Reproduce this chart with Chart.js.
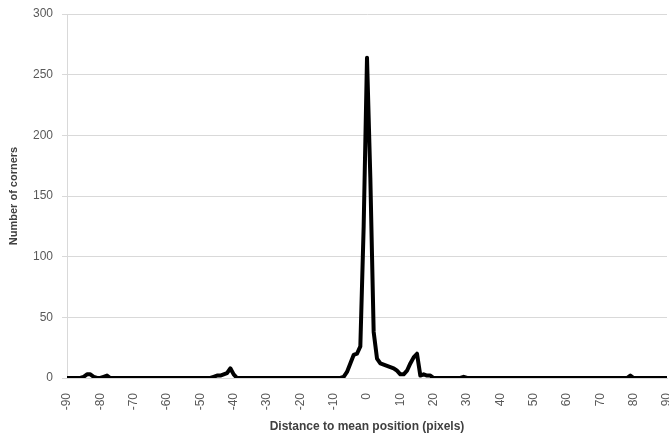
<!DOCTYPE html>
<html>
<head>
<meta charset="utf-8">
<script src="https://cdn.jsdelivr.net/npm/chart.js@4/dist/chart.umd.min.js"></script>
<style>
  html, body { margin: 0; padding: 0; background: #ffffff; }
  #wrap { width: 669px; height: 435px; position: relative; }
</style>
</head>
<body>
<div id="wrap"><canvas id="c" width="669" height="435"></canvas></div>
<script>
// Offsets from the mean position, one category per pixel step (-90 .. 90)
const offsetStart = -90;
const offsetEnd = 90;

// Corner counts per offset, listed from -90 to +90
const cornerCounts = [
  // -90 .. -81
  0, 0, 0, 0, 0, 1, 3, 3, 1, 0,
  // -80 .. -71
  0, 1, 2, 0, 0, 0, 0, 0, 0, 0,
  // -70 .. -61
  0, 0, 0, 0, 0, 0, 0, 0, 0, 0,
  // -60 .. -51
  0, 0, 0, 0, 0, 0, 0, 0, 0, 0,
  // -50 .. -41
  0, 0, 0, 0, 1, 2, 2, 3, 4, 8,
  // -40 .. -31
  3, 0, 0, 0, 0, 0, 0, 0, 0, 0,
  // -30 .. -21
  0, 0, 0, 0, 0, 0, 0, 0, 0, 0,
  // -20 .. -11
  0, 0, 0, 0, 0, 0, 0, 0, 0, 0,
  // -10 .. -1
  0, 0, 0, 1, 5, 12, 19, 20, 26, 125,
  // 0 .. 9
  264, 165, 38, 16, 12, 11, 10, 9, 8, 6,
  // 10 .. 19
  3, 3, 6, 12, 17, 20, 2, 3, 2, 2,
  // 20 .. 29
  0, 0, 0, 0, 0, 0, 0, 0, 0, 1,
  // 30 .. 39
  0, 0, 0, 0, 0, 0, 0, 0, 0, 0,
  // 40 .. 49
  0, 0, 0, 0, 0, 0, 0, 0, 0, 0,
  // 50 .. 59
  0, 0, 0, 0, 0, 0, 0, 0, 0, 0,
  // 60 .. 69
  0, 0, 0, 0, 0, 0, 0, 0, 0, 0,
  // 70 .. 79
  0, 0, 0, 0, 0, 0, 0, 0, 0, 2,
  // 80 .. 90
  0, 0, 0, 0, 0, 0, 0, 0, 0, 0, 0
];

const yTickStep = 50;
const yMax = 300;
const xTickStep = 10;

const xTitle = 'Distance to mean position (pixels)';
const yTitle = 'Number of corners';

const offsets = [];
for (let v = offsetStart; v <= offsetEnd; v++) offsets.push(v);
const points = offsets.map((x, i) => ({ x: x, y: cornerCounts[i] }));

const tickColor = '#595959';
const titleColor = '#404040';
const gridColor = '#d9d9d9';
const fontFamily = '"Liberation Sans", Arial, sans-serif';

new Chart(document.getElementById('c'), {
  type: 'line',
  data: {
    datasets: [{
      data: points,
      borderColor: '#000000',
      borderWidth: 4,
      borderJoinStyle: 'round',
      borderCapStyle: 'round',
      pointRadius: 0,
      tension: 0,
      fill: false
    }]
  },
  options: {
    responsive: false,
    animation: false,
    layout: { padding: { top: 14, right: 2, left: 0, bottom: 0 } },
    plugins: { legend: { display: false }, tooltip: { enabled: false } },
    scales: {
      x: {
        type: 'linear',
        min: offsetStart,
        max: offsetEnd,
        grid: { display: false },
        border: { display: true, color: gridColor, width: 1 },
        ticks: {
          stepSize: xTickStep,
          minRotation: 90,
          maxRotation: 90,
          padding: 7,
          color: tickColor,
          font: { family: fontFamily, size: 12 }
        },
        title: {
          display: true,
          text: xTitle,
          color: titleColor,
          font: { family: fontFamily, size: 12, weight: 'bold' },
          padding: { top: 0, bottom: 1 }
        },
        afterFit(scale) {
          scale.height = 57;
          scale.paddingLeft = 0;
          scale.paddingRight = 0;
        }
      },
      y: {
        min: 0,
        max: yMax,
        grid: { color: gridColor, lineWidth: 1, tickLength: 5, drawTicks: true },
        border: { display: true, color: gridColor, width: 1 },
        ticks: {
          stepSize: yTickStep,
          padding: 9,
          color: tickColor,
          font: { family: fontFamily, size: 12 }
        },
        title: {
          display: true,
          text: yTitle,
          color: titleColor,
          font: { family: fontFamily, size: 11, weight: 'bold' },
          padding: { top: 7, bottom: 0 }
        },
        afterFit(scale) {
          scale.width = 67;
          scale.paddingTop = 0;
          scale.paddingBottom = 0;
        }
      }
    }
  }
});
</script>
</body>
</html>
